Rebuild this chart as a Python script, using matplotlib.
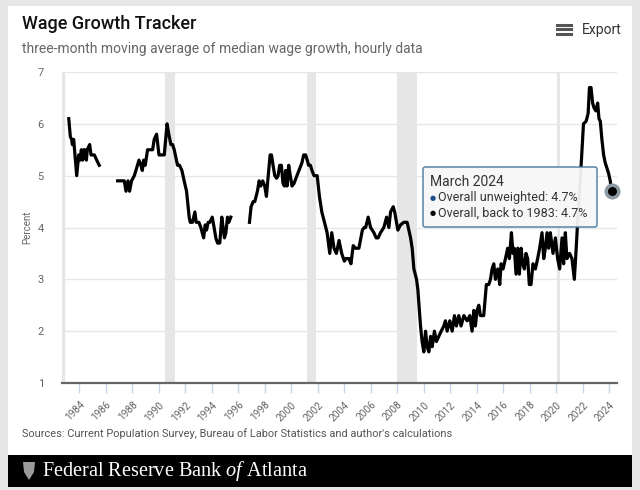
import numpy as np
import matplotlib.pyplot as plt
from matplotlib.patches import Rectangle, FancyBboxPatch, Polygon
from matplotlib.lines import Line2D

plt.rcParams['font.family'] = ['Roboto', 'DejaVu Sans']
plt.rcParams['mathtext.fontset'] = 'custom'
plt.rcParams['mathtext.it'] = 'Liberation Serif:italic'
plt.rcParams['mathtext.rm'] = 'Liberation Serif'

W, H = 640, 490

# Wage growth tracker (decimal year, percent).
# The series has two gaps (1985-86 and 1995-96), so it is kept in three pieces.
years_a = [1983.20, 1983.32, 1983.42, 1983.47, 1983.57, 1983.80, 1983.95, 1984.05,
           1984.15, 1984.25, 1984.33, 1984.43, 1984.53, 1984.60, 1984.78, 1984.88,
           1985.13, 1985.31, 1985.50]
wage_a = [6.1, 5.75, 5.7, 5.6, 5.7, 5.0, 5.4, 5.3, 5.5, 5.3, 5.5, 5.5, 5.3, 5.5,
          5.6, 5.4, 5.4, 5.3, 5.2]

years_b = [1986.89, 1987.39, 1987.52, 1987.67, 1987.79, 1987.94, 1988.15, 1988.27,
           1988.50, 1988.65, 1988.75, 1988.85, 1988.97, 1989.15, 1989.35, 1989.53,
           1989.65, 1989.83, 1990.01, 1990.21, 1990.41, 1990.62, 1990.75, 1990.91,
           1991.04, 1991.16, 1991.41, 1991.56, 1991.74, 1991.91, 1992.09, 1992.29,
           1992.37, 1992.54, 1992.72, 1992.82, 1993.02, 1993.17, 1993.38, 1993.50,
           1993.60, 1993.72, 1993.85, 1994.03, 1994.17, 1994.30, 1994.43, 1994.60,
           1994.75, 1994.85, 1994.95, 1995.06, 1995.18, 1995.28, 1995.43]
wage_b = [4.9, 4.9, 4.7, 4.9, 4.7, 4.9, 5.0, 5.1, 5.3, 5.2, 5.1, 5.3, 5.2, 5.5, 5.5,
          5.5, 5.7, 5.8, 5.4, 5.4, 5.4, 6.0, 5.8, 5.6, 5.6, 5.5, 5.2, 5.2, 5.1, 4.9,
          4.7, 4.2, 4.1, 4.1, 4.3, 4.1, 4.1, 4.0, 3.8, 4.05, 3.95, 4.1, 4.1, 4.2,
          4.0, 3.8, 3.7, 3.7, 4.2, 4.0, 3.8, 3.9, 4.2, 4.1, 4.2]

years_c = [1996.84, 1996.96, 1997.12, 1997.24, 1997.34, 1997.44, 1997.57, 1997.69,
           1997.84, 1997.99, 1998.12, 1998.22, 1998.40, 1998.50, 1998.62, 1998.75,
           1998.88, 1999.00, 1999.12, 1999.25, 1999.37, 1999.48, 1999.57, 1999.68,
           1999.80, 1999.92, 2000.05, 2000.20, 2000.35, 2000.50, 2000.65, 2000.80,
           2000.93, 2001.08, 2001.20, 2001.30, 2001.44, 2001.56, 2001.71, 2001.95,
           2002.12, 2002.30, 2002.50, 2002.70, 2002.90, 2003.05, 2003.22, 2003.40,
           2003.60, 2003.80, 2004.00, 2004.12, 2004.35, 2004.50, 2004.67, 2004.85,
           2005.10, 2005.36, 2005.50, 2005.61, 2005.80, 2005.98, 2006.23, 2006.40,
           2006.55, 2006.73, 2006.98, 2007.19, 2007.36, 2007.49, 2007.69, 2007.80,
           2008.04, 2008.24, 2008.49, 2008.74, 2009.00, 2009.12, 2009.25, 2009.45,
           2009.55, 2009.75, 2009.87, 2010.00, 2010.13, 2010.25, 2010.38, 2010.51,
           2010.63, 2010.80, 2010.95, 2011.13, 2011.31, 2011.51, 2011.63, 2011.76,
           2011.96, 2012.14, 2012.31, 2012.46, 2012.64, 2012.81, 2013.02, 2013.27,
           2013.47, 2013.64, 2013.77, 2013.89, 2014.02, 2014.15, 2014.27, 2014.52,
           2014.72, 2014.90, 2015.03, 2015.15, 2015.28, 2015.40, 2015.58, 2015.73,
           2015.83, 2015.98, 2016.16, 2016.33, 2016.46, 2016.61, 2016.73, 2016.83,
           2016.96, 2017.09, 2017.21, 2017.34, 2017.46, 2017.59, 2017.71, 2017.84,
           2017.96, 2018.09, 2018.24, 2018.42, 2018.59, 2018.74, 2018.92, 2019.05,
           2019.17, 2019.30, 2019.42, 2019.55, 2019.75, 2019.93, 2020.10, 2020.25,
           2020.43, 2020.55, 2020.68, 2020.80, 2021.00, 2021.18, 2021.36, 2021.50,
           2021.65, 2021.85, 2022.05, 2022.25, 2022.40, 2022.50, 2022.62, 2022.74,
           2022.86, 2022.99, 2023.12, 2023.22, 2023.32, 2023.44, 2023.57, 2023.69,
           2023.94, 2024.07, 2024.17]
wage_c = [4.1, 4.4, 4.5, 4.5, 4.6, 4.7, 4.9, 4.8, 4.9, 4.8, 4.6, 4.9, 5.4, 5.4,
          5.2, 5.0, 4.95, 5.0, 5.2, 5.2, 4.85, 4.8, 5.1, 4.8, 5.2, 5.0, 4.8, 4.85,
          4.95, 5.05, 5.15, 5.25, 5.4, 5.4, 5.3, 5.2, 5.2, 5.1, 5.0, 5.0, 4.6, 4.3,
          4.1, 3.9, 3.5, 3.9, 3.6, 3.5, 3.75, 3.5, 3.35, 3.4, 3.4, 3.3, 3.65, 3.6,
          3.6, 3.95, 4.0, 4.0, 4.2, 4.0, 3.9, 3.8, 3.8, 3.9, 4.0, 4.2, 4.0, 4.3,
          4.4, 4.3, 3.95, 4.05, 4.1, 4.1, 3.8, 3.6, 3.2, 3.0, 2.8, 2.1, 1.8, 1.6,
          2.0, 1.7, 1.6, 1.9, 1.7, 2.0, 1.8, 1.9, 2.0, 2.1, 2.2, 2.0, 2.2, 2.0, 2.3,
          2.1, 2.3, 2.1, 2.3, 2.2, 2.3, 2.0, 2.4, 2.1, 2.4, 2.5, 2.3, 2.3, 2.9, 2.9,
          3.0, 3.2, 3.3, 3.0, 3.2, 2.9, 3.3, 3.2, 3.4, 3.6, 3.4, 3.9, 3.5, 3.6, 3.1,
          3.6, 3.1, 3.6, 3.3, 3.2, 3.5, 3.4, 2.9, 2.9, 3.3, 3.2, 3.4, 3.6, 3.9, 3.4,
          3.6, 3.9, 3.6, 3.9, 3.5, 3.8, 3.4, 3.2, 3.8, 3.3, 3.9, 3.4, 3.5, 3.4, 3.0,
          3.6, 4.3, 5.1, 6.0, 6.05, 6.2, 6.7, 6.7, 6.4, 6.3, 6.25, 6.4, 6.1, 6.05,
          5.7, 5.4, 5.25, 5.05, 4.9, 4.7]

recessions = [(1990.5, 1991.2), (2001.2, 2001.85), (2007.95, 2009.45), (2020.05, 2020.25)]
x_ticks = list(range(1984, 2025, 2))
y_ticks = [1, 2, 3, 4, 5, 6, 7]


def fx(px):
    return px / W


def fy(py):
    return 1 - py / H


fig = plt.figure(figsize=(6.4, 4.9), dpi=100)
fig.patch.set_facecolor('#e6e6e6')

# white card and black footer band (behind the axes)
fig.add_artist(Rectangle((fx(8), fy(455)), fx(632) - fx(8), fy(6) - fy(455),
                         transform=fig.transFigure, facecolor='white', edgecolor='none',
                         zorder=-10))
fig.add_artist(Rectangle((fx(8), fy(487)), fx(632) - fx(8), fy(455) - fy(487),
                         transform=fig.transFigure, facecolor='black', edgecolor='none',
                         zorder=-10))

# header
fig.text(fx(22), fy(24), 'Wage Growth Tracker', fontsize=13, fontweight='medium',
         color='#111111', va='center')
fig.text(fx(22), fy(49), 'three-month moving average of median wage growth, hourly data',
         fontsize=10, color='#666666', va='center')
for yy in (25, 29.5, 34):
    fig.add_artist(Line2D([fx(557), fx(571)], [fy(yy), fy(yy)], transform=fig.transFigure,
                          color='#555555', lw=2.2))
fig.text(fx(582), fy(30), 'Export', fontsize=10, color='#333333', va='center')

# plot area
ax = fig.add_axes([fx(62), fy(383), fx(617) - fx(62), fy(72) - fy(383)])
ax.set_xlim(1982.69, 2024.58)
ax.set_ylim(1, 7)
ax.set_facecolor('none')

for a, b in recessions:
    ax.axvspan(a, b, color='#e6e6e6', lw=0, zorder=0)
ax.axvline(1982.76, color='#e6e6e6', lw=2.5, zorder=0)

ax.set_yticks(y_ticks)
ax.grid(axis='y', color='#e6e6e6', lw=1, zorder=0)
ax.set_axisbelow(True)

for yrs, vals in ((years_a, wage_a), (years_b, wage_b), (years_c, wage_c)):
    ax.plot(yrs, vals, color='black', lw=2.3, solid_joinstyle='round', zorder=3)
ax.plot(years_c[-1], wage_c[-1], 'o', ms=9, mfc='black', mec='#8c9aa3', mew=2.5,
        zorder=5, clip_on=False)

for s in ('top', 'right', 'left'):
    ax.spines[s].set_visible(False)
ax.spines['bottom'].set_color('#666666')
ax.spines['bottom'].set_linewidth(1.6)

ax.set_xticks(x_ticks)
ax.set_xticklabels([str(y) for y in x_ticks], rotation=45, ha='right',
                   rotation_mode='anchor', fontsize=7.3, color='#666666')
ax.tick_params(axis='x', length=7, width=1, color='#ccd6eb', pad=5)
ax.tick_params(axis='y', length=0, labelsize=8, labelcolor='#666666', pad=13)
fig.text(fx(27), fy(227), 'Percent', rotation=90, fontsize=7, color='#666666',
         ha='center', va='center')

# tooltip
fig.add_artist(FancyBboxPatch((fx(423), fy(227)), fx(597) - fx(423), fy(167) - fy(227),
                              boxstyle='round,pad=0,rounding_size=0.004',
                              transform=fig.transFigure, facecolor='#f7f7f7',
                              edgecolor='#4d7fa3', lw=1.1, alpha=0.95, zorder=6))
fig.text(fx(430), fy(182), 'March 2024', fontsize=10, color='#333333', va='center', zorder=7)
fig.text(fx(430), fy(198), '\u25cf', fontsize=5, color='#1f4e8c', va='center',
         family=['DejaVu Sans'], zorder=7)
fig.text(fx(438), fy(198), 'Overall unweighted: 4.7%', fontsize=9, color='#333333',
         va='center', zorder=7)
fig.text(fx(430), fy(213), '\u25cf', fontsize=5, color='black', va='center',
         family=['DejaVu Sans'], zorder=7)
fig.text(fx(438), fy(213), 'Overall, back to 1983: 4.7%', fontsize=9, color='#333333',
         va='center', zorder=7)

# sources and footer
fig.text(fx(22), fy(434), "Sources: Current Population Survey, Bureau of Labor Statistics "
         "and author's calculations", fontsize=7.9, color='#555555', va='center')
fig.add_artist(Polygon([[fx(23), fy(462)], [fx(35), fy(462)], [fx(34), fy(472)],
                        [fx(29), fy(480)], [fx(24), fy(472)]], closed=True,
                       transform=fig.transFigure, facecolor='#9a9a9a', edgecolor='none'))
fig.text(fx(42), fy(471), r'Federal Reserve Bank $\mathit{of}$ Atlanta', fontsize=14.6,
         color='white', va='center', family=['Liberation Serif'])

fig.savefig('out.png', dpi=100)
